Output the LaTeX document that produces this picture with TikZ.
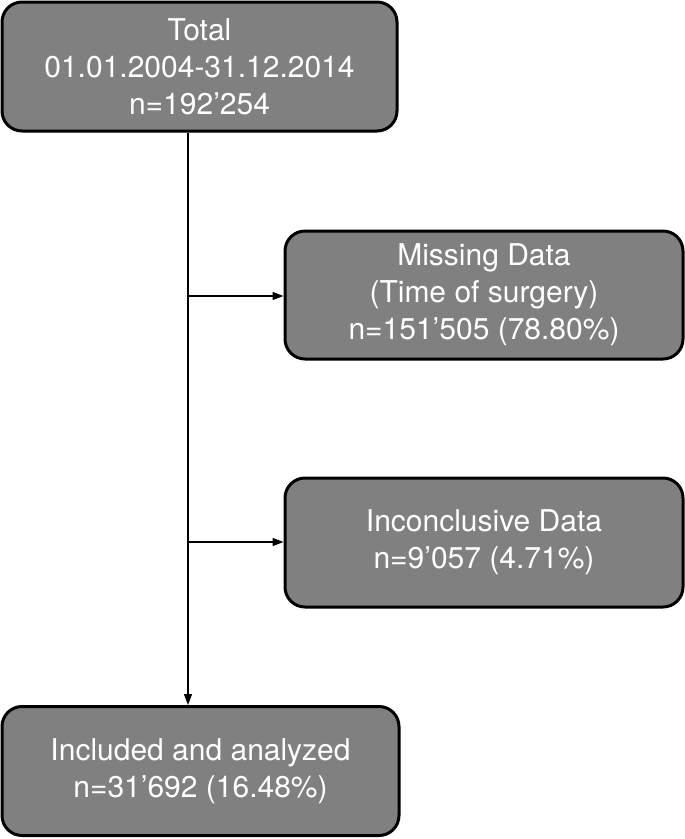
\documentclass[tikz,border=0pt]{standalone}
\usepackage{fontspec}
\setmainfont{TeX Gyre Heros}
\usetikzlibrary{arrows.meta}
\begin{document}
\begin{tikzpicture}[x=1pt,y=-1pt,
  flowbox/.style={draw=black,line width=3pt,fill=black!50,rounded corners=20pt,
    text=white,align=center,inner sep=0pt,
    font=\fontsize{30}{37}\selectfont},
  link/.style={line width=1.3pt,-{Triangle[length=11pt,width=8pt]}}]
\path[use as bounding box] (0,0) rectangle (685,839);
\node[flowbox,minimum width=395pt,minimum height=129pt] (total) at (199.5,66.5)
  {Total\\01.01.2004-31.12.2014\\n=192’254};
\node[flowbox,minimum width=398pt,minimum height=128pt] (miss) at (484,295)
  {Missing Data\\(Time of surgery)\\n=151’505 (78.80\%)};
\node[flowbox,minimum width=398pt,minimum height=129pt] (inc) at (484,542.5)
  {Inconclusive Data\\n=9’057 (4.71\%)};
\node[flowbox,minimum width=397pt,minimum height=129pt] (incl) at (200.5,771)
  {Included and analyzed\\n=31’692 (16.48\%)};
\coordinate (j1) at (188,296);
\coordinate (j2) at (188,542);
\draw[link] (total.south -| j1) -- (incl.north -| j1);
\draw[link] (j1) -- (j1 -| miss.west);
\draw[link] (j2) -- (j2 -| inc.west);
\end{tikzpicture}
\end{document}
